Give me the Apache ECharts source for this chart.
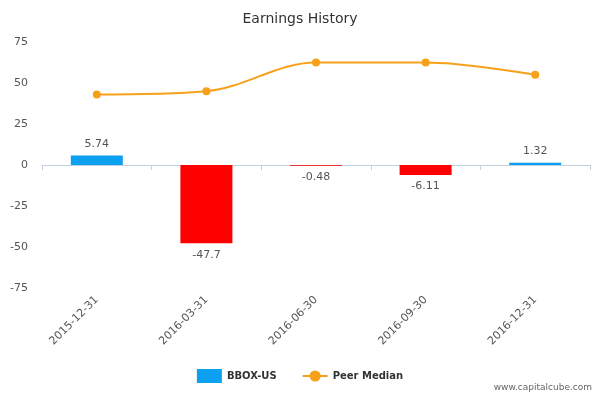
<!DOCTYPE html>
<html><head><meta charset="utf-8">
<script src="https://cdn.jsdelivr.net/npm/echarts@6/dist/echarts.min.js"></script>
<style>html,body{margin:0;padding:0;background:#fff}#c{width:600px;height:400px}</style>
</head><body><div id="c"></div>
<script>
const categories = ['2015-12-31','2016-03-31','2016-06-30','2016-09-30','2016-12-31'];
const bboxValues = [5.74, -47.7, -0.48, -6.11, 1.32];
const peerMedian = [43, 45, 62.5, 62.5, 55];
const yTicks = [-75, -50, -25, 0, 25, 50, 75];

const chart = echarts.init(document.getElementById('c'));
chart.setOption({
  animation: false,
  title: { text: 'Earnings History', left: 'center', top: 7,
    textStyle: { fontFamily: 'DejaVu Sans', fontSize: 14, fontWeight: 'normal', color: '#333' } },
  grid: { left: 42, right: 10, top: 42, bottom: 112 },
  legend: { bottom: 12, left: 'center', itemGap: 25,
    textStyle: { fontFamily: 'DejaVu Sans', fontSize: 10, fontWeight: 'bold', color: '#333' },
    data: [{ name: 'BBOX-US', icon: 'rect' }, { name: 'Peer Median' }] },
  graphic: [{ type: 'text', right: 8, bottom: 8,
    style: { text: 'www.capitalcube.com', fontSize: 9, fill: '#666', fontFamily: 'DejaVu Sans' } }],
  xAxis: { type: 'category', data: categories,
    axisLine: { lineStyle: { color: '#c0d0e0' } },
    axisTick: { show: true, alignWithLabel: false, lineStyle: { color: '#c0d0e0' } },
    axisLabel: { rotate: 45, color: '#555', fontSize: 11, fontFamily: 'DejaVu Sans', margin: 10 } },
  yAxis: { type: 'value', min: yTicks[0], max: yTicks[yTicks.length-1], interval: 25,
    splitLine: { show: false }, axisLine: { show: false }, axisTick: { show: false },
    axisLabel: { color: '#555', fontSize: 11, fontFamily: 'DejaVu Sans', margin: 14 } },
  series: [
    { name: 'BBOX-US', type: 'bar', barWidth: 52, color: '#0ca0f0',
      data: bboxValues.map(v => ({ value: v, itemStyle: { color: v < 0 ? '#ff0000' : '#0ca0f0' } })),
      label: { show: true, position: 'outside', distance: 6, color: '#555', fontSize: 11, fontFamily: 'DejaVu Sans',
        formatter: p => String(p.value) } },
    { name: 'Peer Median', type: 'line', smooth: 0.35, data: peerMedian, color: '#f7a11a',
      symbol: 'circle', symbolSize: 8, lineStyle: { width: 2, color: '#f7a11a' } }
  ]
});
</script></body></html>
